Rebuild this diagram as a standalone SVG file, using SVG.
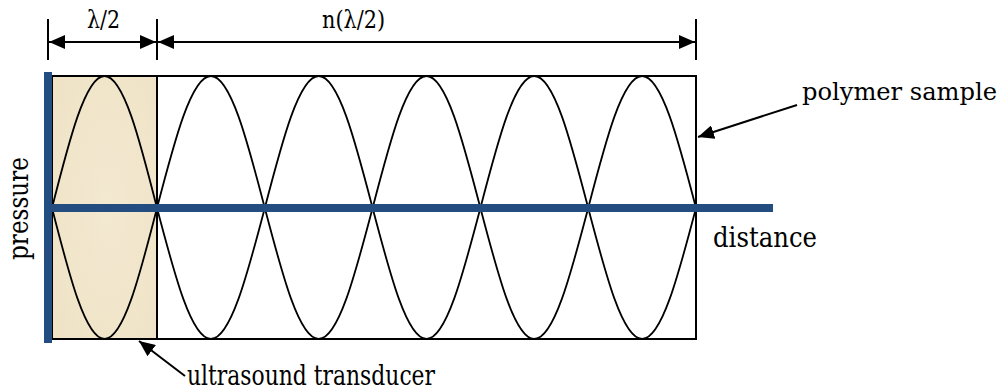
<svg xmlns="http://www.w3.org/2000/svg" width="1002" height="392" viewBox="0 0 1002 392">
<style>
.lbl{font-size:27px}
.dim{font-size:24px}
.ln{stroke:#000;stroke-width:2;fill:none}
.wave{stroke:#000;stroke-width:1.8;fill:none}
.blue{fill:#234D80}
</style>
<defs>
<marker id="ah" viewBox="0 0 16 14" refX="16" refY="7" markerWidth="16" markerHeight="14" markerUnits="userSpaceOnUse" orient="auto-start-reverse">
<path d="M0,0 L16,7 L0,14 z" fill="#000"/>
</marker>
<radialGradient id="tan" cx="0.55" cy="0.5" r="0.75">
<stop offset="0" stop-color="#F3E9D1"/>
<stop offset="1" stop-color="#EFE2C5"/>
</radialGradient>
</defs>
<rect width="1002" height="392" fill="#fff"/>
<g id="transducer">
<rect x="52" y="76" width="105" height="263" fill="url(#tan)"/>
</g>
<g id="sample">
<rect x="52" y="76" width="644" height="263" class="ln"/>
<line x1="157" y1="76" x2="157" y2="339" class="ln"/>
</g>
<g id="waves">
<path class="wave" d="M52,208 C69.12,140.4 85.5,76 104.5,76 S139.88,140.4 157,208 C174.58,140.4 191.39,76 210.9,76 S247.22,140.4 264.8,208 C282.38,140.4 299.19,76 318.7,76 S355.02,140.4 372.6,208 C390.18,140.4 406.99,76 426.5,76 S462.82,140.4 480.4,208 C497.98,140.4 514.79,76 534.3,76 S570.62,140.4 588.2,208 C605.78,140.4 622.59,76 642.1,76 S678.42,140.4 696,208"/>
<path class="wave" d="M52,208 C69.12,275.1 85.5,339 104.5,339 S139.88,275.1 157,208 C174.58,275.1 191.39,339 210.9,339 S247.22,275.1 264.8,208 C282.38,275.1 299.19,339 318.7,339 S355.02,275.1 372.6,208 C390.18,275.1 406.99,339 426.5,339 S462.82,275.1 480.4,208 C497.98,275.1 514.79,339 534.3,339 S570.62,275.1 588.2,208 C605.78,275.1 622.59,339 642.1,339 S678.42,275.1 696,208"/>
</g>
<g id="axes">
<rect class="blue" x="44" y="72" width="8" height="271"/>
<rect class="blue" x="48" y="204" width="725" height="8"/>
</g>
<g id="connectors">
<line class="ln" x1="48" y1="19" x2="48" y2="60"/>
<line class="ln" x1="157" y1="19" x2="157" y2="60"/>
<line class="ln" x1="696" y1="19" x2="696" y2="60"/>
<line class="ln" x1="49" y1="42" x2="156" y2="42" marker-start="url(#ah)" marker-end="url(#ah)"/>
<line class="ln" x1="158" y1="42" x2="695" y2="42" marker-start="url(#ah)" marker-end="url(#ah)"/>
<line class="ln" x1="797" y1="105" x2="698" y2="137" marker-end="url(#ah)"/>
<line class="ln" x1="185" y1="376" x2="139" y2="341" marker-end="url(#ah)"/>
</g>
<g id="labels" font-family="DejaVu Serif, serif" fill="#000">
<text class="dim" x="87" y="28" textLength="33" lengthAdjust="spacingAndGlyphs">λ/2</text>
<text class="dim" x="322" y="28" textLength="63" lengthAdjust="spacingAndGlyphs">n(λ/2)</text>
<text x="802" y="100" font-size="24.5" textLength="195" lengthAdjust="spacingAndGlyphs">polymer sample</text>
<text class="lbl" x="713" y="247" textLength="104" lengthAdjust="spacingAndGlyphs">distance</text>
<text class="lbl" x="187" y="385" textLength="248" lengthAdjust="spacingAndGlyphs">ultrasound transducer</text>
<text class="lbl" transform="translate(28,260) rotate(-90)" textLength="103" lengthAdjust="spacingAndGlyphs">pressure</text>
</g>
</svg>
